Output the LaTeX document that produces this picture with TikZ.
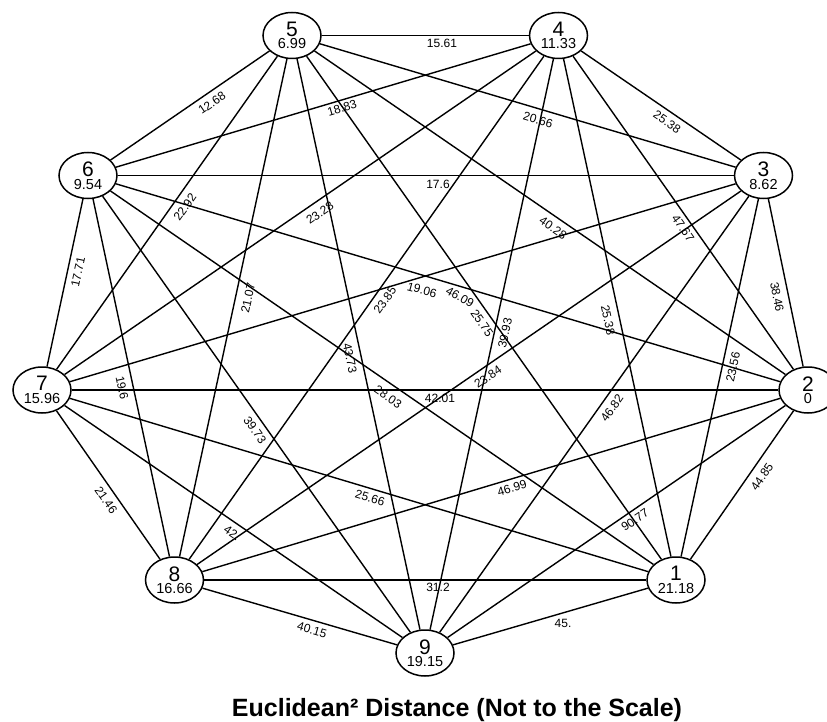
\documentclass[tikz,border=0pt]{standalone}
\usepackage{fontspec}
\setmainfont{Liberation Sans}
\usetikzlibrary{shapes.geometric}
\begin{document}
\begin{tikzpicture}[x=1pt,y=-1pt,
  vert/.style={draw, ellipse, fill=white, line width=1.5pt, minimum width=58pt, minimum height=46pt, inner sep=0pt, align=center, font=\fontsize{14.5}{11}\selectfont},
  conn/.style={line width=1.4pt},
  elab/.style={font=\fontsize{12}{12}\selectfont, inner sep=0pt}]
\useasboundingbox (0,0) rectangle (827,722);
% vertices
\newcommand{\vtx}[2]{{\fontsize{21}{11}\selectfont #1}\\[1.5pt]#2}
\node[vert] (n5) at (292,35.5) {\vtx{5}{6.99}};
\node[vert] (n4) at (558.5,35.5) {\vtx{4}{11.33}};
\node[vert] (n6) at (88,175.5) {\vtx{6}{9.54}};
\node[vert] (n3) at (763.5,175.5) {\vtx{3}{8.62}};
\node[vert] (n7) at (42,390) {\vtx{7}{15.96}};
\node[vert] (n2) at (808,390) {\vtx{2}{0}};
\node[vert] (n8) at (174.5,580) {\vtx{8}{16.66}};
\node[vert] (n1) at (676,580) {\vtx{1}{21.18}};
\node[vert] (n9) at (425,653) {\vtx{9}{19.15}};
% edges
\foreach \a/\b in {5/4,6/5,6/4,5/3,4/3,6/3,5/7,4/7,5/2,4/2,3/2,6/7,5/8,6/8,4/8,7/3,6/2,5/1,4/9,4/1,3/8,7/2,6/1,5/9,6/9,3/9,3/1,2/1,7/8,7/1,8/2,7/9,2/9,8/1,8/9,1/9}
  \draw[conn] (n\a) -- (n\b);
% edge labels
\node[elab] (l54) at (442,43) {15.61};
\node[elab, rotate=34.3] (l65) at (212,103) {12.68};
\node[elab, rotate=16.5] (l64) at (342,108) {18.83};
\node[elab, rotate=-16.5] (l53) at (538,120) {20.66};
\node[elab, rotate=-34.3] (l43) at (667,122) {25.38};
\node[elab] (l63) at (438,184) {17.6};
\node[elab, rotate=54.8] (l57) at (185,207) {22.92};
\node[elab, rotate=34.5] (l47) at (320,213) {23.28};
\node[elab, rotate=-34.7] (l52) at (553,228) {40.28};
\node[elab, rotate=-55] (l42) at (683,228) {47.67};
\node[elab, rotate=-79] (l32) at (777,297) {38.46};
\node[elab, rotate=78] (l67) at (78,272) {17.71};
\node[elab, rotate=77.8] (l58) at (248,298) {21.07};
\node[elab, rotate=-78] (l68) at (122,388) {19.6};
\node[elab, rotate=54.8] (l48) at (385,300) {23.85};
\node[elab, rotate=-15] (l73) at (422,290) {19.06};
\node[elab, rotate=-30] (l62) at (460,297) {46.09};
\node[elab, rotate=-55] (l51) at (482,323) {25.75};
\node[elab, rotate=77.8] (l49) at (505,333) {39.93};
\node[elab, rotate=-77.8] (l41) at (608,320) {25.38};
\node[elab, rotate=34.4] (l38) at (488,377) {23.84};
\node[elab] (l72) at (440,398) {42.01};
\node[elab, rotate=-34.4] (l61) at (388,397) {28.03};
\node[elab, rotate=-77.8] (l59) at (350,358) {43.73};
\node[elab, rotate=-54.7] (l69) at (255,430) {39.73};
\node[elab, rotate=54.7] (l39) at (612,408) {46.82};
\node[elab, rotate=77.8] (l31) at (733,367) {23.56};
\node[elab, rotate=55.7] (l21) at (762,477) {44.85};
\node[elab, rotate=-55] (l78) at (106,500) {21.46};
\node[elab, rotate=-16.6] (l71) at (370,498) {25.66};
\node[elab, rotate=16.6] (l82) at (512,488) {46.99};
\node[elab, rotate=-34.5] (l79) at (232,533) {42.};
\node[elab, rotate=34.5] (l29) at (635,520) {90.77};
\node[elab] (l81) at (438,587) {31.2};
\node[elab, rotate=-16.4] (l89) at (312,630) {40.15};
\node[elab] (l19) at (563,623) {45.};
% title
\node[font=\fontsize{25}{28}\selectfont\bfseries, anchor=base] (title) at (457,716) {Euclidean² Distance (Not to the Scale)};
\end{tikzpicture}
\end{document}
